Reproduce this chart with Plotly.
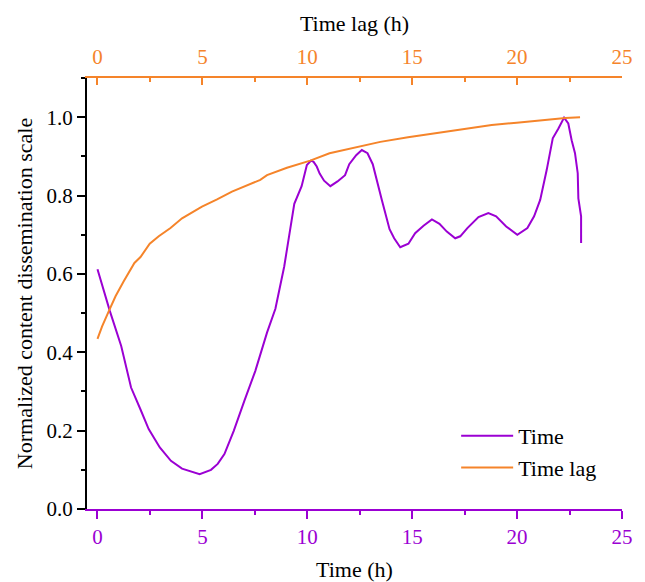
import plotly.graph_objects as go

# Time series (purple, bottom axis)
time_x = [0, 0.59, 1.13, 1.6, 2.05, 2.44, 2.97, 3.5, 4.03, 4.5, 4.87, 5.41, 5.73, 6.05, 6.49,
          7.0, 7.52, 8.08, 8.48, 8.9, 9.16, 9.38, 9.73, 9.98, 10.18, 10.3, 10.45, 10.59, 10.8,
          11.1, 11.44, 11.8, 12.0, 12.33, 12.6, 12.87, 13.12, 13.31, 13.55, 13.92, 14.14, 14.43,
          14.82, 15.14, 15.54, 15.94, 16.3, 16.65, 17.05, 17.29, 17.63, 18.16, 18.63, 19.0, 19.48,
          20.01, 20.49, 20.81, 21.1, 21.41, 21.7, 21.97, 22.24, 22.44, 22.6, 22.76, 22.89, 22.92,
          23.05, 23.05]
time_y = [0.612, 0.505, 0.416, 0.310, 0.254, 0.204, 0.157, 0.123, 0.103, 0.095, 0.089, 0.100,
          0.115, 0.140, 0.199, 0.276, 0.352, 0.450, 0.511, 0.619, 0.704, 0.779, 0.824, 0.878,
          0.889, 0.886, 0.874, 0.856, 0.838, 0.824, 0.836, 0.852, 0.880, 0.903, 0.916, 0.908,
          0.880, 0.836, 0.789, 0.714, 0.691, 0.668, 0.677, 0.704, 0.723, 0.739, 0.728, 0.708,
          0.691, 0.696, 0.717, 0.745, 0.755, 0.747, 0.721, 0.700, 0.717, 0.747, 0.789, 0.865,
          0.946, 0.971, 0.999, 0.984, 0.941, 0.908, 0.857, 0.793, 0.747, 0.679]

# Time lag series (orange, top axis)
lag_x = [0, 0.22, 0.54, 0.86, 1.25, 1.76, 2.05, 2.49, 2.92, 3.48, 4.03, 4.98, 5.7, 6.41, 7.76,
         8.08, 9.03, 10.14, 11.06, 12.2, 13.48, 14.8, 16.17, 17.29, 18.79, 19.98, 21.41, 22.3, 23.0]
lag_y = [0.434, 0.466, 0.505, 0.543, 0.581, 0.628, 0.643, 0.677, 0.696, 0.717, 0.742, 0.772,
         0.790, 0.810, 0.840, 0.852, 0.871, 0.889, 0.908, 0.922, 0.937, 0.949, 0.960, 0.969,
         0.980, 0.986, 0.994, 0.998, 1.0]

PURPLE = "#9B00D3"
ORANGE = "#F5842A"
FONT = "Liberation Serif"

fig = go.Figure()
fig.add_trace(go.Scatter(x=time_x, y=time_y, mode="lines", name="Time",
                         line=dict(color=PURPLE, width=2), xaxis="x", yaxis="y",
                         legendgroup="a"))
fig.add_trace(go.Scatter(x=lag_x, y=lag_y, mode="lines", name="Time lag",
                         line=dict(color=ORANGE, width=2), xaxis="x2", yaxis="y",
                         legendgroup="b"))

fig.update_layout(
    width=637, height=574,
    margin=dict(l=78.5, r=22.7, t=70, b=72.5, autoexpand=False),
    paper_bgcolor="white", plot_bgcolor="white",
    font=dict(family=FONT, size=21, color="black"),
    showlegend=True,
    legend=dict(x=0.69, y=0.218, xanchor="left", yanchor="top",
                bgcolor="rgba(0,0,0,0)", font=dict(size=22, family=FONT),
                itemwidth=52, tracegroupgap=0, traceorder="grouped"),
    xaxis=dict(range=[-0.5, 25], tick0=0, dtick=5, showgrid=False, zeroline=False,
               automargin=False,
               showline=True, linecolor=PURPLE, linewidth=2,
               ticks="outside", ticklen=8, tickwidth=2, tickcolor=PURPLE,
               ticklabelstandoff=0,
               tickfont=dict(color=PURPLE, size=21, family=FONT),
               minor=dict(dtick=2.5, tick0=0, ticks="outside", ticklen=4, tickwidth=2,
                          tickcolor=PURPLE, showgrid=False),
               title=dict(text="Time (h)", font=dict(size=22, color="black", family=FONT),
                          standoff=15)),
    xaxis2=dict(range=[-0.5, 25], tick0=0, dtick=5, overlaying="x", side="top",
                anchor="y", showgrid=False, zeroline=False, automargin=False,
                showline=True, linecolor=ORANGE, linewidth=2,
                ticks="inside", ticklen=7, tickwidth=2, tickcolor=ORANGE,
                ticklabelstandoff=4,
                tickfont=dict(color=ORANGE, size=21, family=FONT),
                minor=dict(dtick=2.5, tick0=0, ticks="inside", ticklen=4, tickwidth=2,
                           tickcolor=ORANGE, showgrid=False),
                title=dict(text="Time lag (h)", font=dict(size=22, color="black", family=FONT),
                           standoff=7)),
    yaxis=dict(range=[0, 1.1], tick0=0, dtick=0.2, tickformat=".1f", showgrid=False,
               zeroline=False, showline=True, linecolor="black", linewidth=2,
               automargin=False,
               ticks="outside", ticklen=8, tickwidth=2, tickcolor="black",
               tickfont=dict(size=21, family=FONT, color="black"),
               minor=dict(dtick=0.1, tick0=0, ticks="outside", ticklen=4, tickwidth=2,
                          tickcolor="black", showgrid=False),
               title=dict(text="Normalized content dissemination scale",
                          font=dict(size=22, family=FONT, color="black"), standoff=8)),
)

fig.write_html("out.html")
